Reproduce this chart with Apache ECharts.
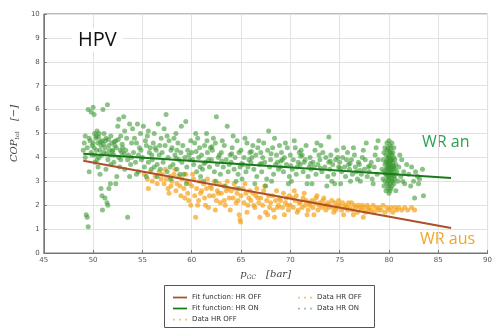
<!DOCTYPE html>
<html>
<head>
<meta charset="utf-8">
<script src="https://cdn.jsdelivr.net/npm/echarts@6/dist/echarts.min.js"></script>
<style>
  html, body { margin: 0; padding: 0; background: #fff; }
  #chart { width: 495px; height: 328px; }
</style>
</head>
<body>
<div id="chart"></div>
<script>
// axis ticks
const xTicks = [45, 50, 55, 60, 65, 70, 75, 80, 85, 90];
const yTicks = [0, 1, 2, 3, 4, 5, 6, 7, 8, 9, 10];

// fit functions (end points)
const fitHrOff = [[49.0, 3.86], [86.3, 1.05]];
const fitHrOn = [[49.0, 4.15], [86.3, 3.14]];

// measured points, heat recovery ON (green)
const dataHrOn = [
  [49.0,4.3],[49.1,4.6],[49.2,4.0],[49.3,1.6],[49.4,1.5],[49.2,4.9],[49.5,1.1],[49.4,4.4],[49.6,3.4],[49.7,4.7],[49.8,4.2],[49.5,6.0],[49.8,5.9],[49.9,4.5],
  [50.0,6.1],[50.1,5.8],[50.3,4.8],[50.2,4.1],[50.4,3.9],[50.5,4.6],[50.6,5.0],[50.1,4.4],[50.7,4.3],[50.8,2.7],[50.9,2.4],[50.5,3.6],[50.3,4.9],[50.6,4.0],[50.9,4.7],[50.2,3.8],[50.8,4.5],[50.4,5.1],[50.7,3.3],[50.95,1.8],
  [51.0,6.0],[51.1,4.2],[51.2,2.3],[51.3,4.8],[51.4,2.1],[51.5,3.9],[51.6,4.5],[51.1,5.0],[51.7,4.1],[51.8,3.7],[51.3,3.5],[51.9,4.6],[51.5,2.0],[51.6,2.7],[51.2,4.4],[51.8,4.9],[51.45,6.2],[51.75,2.9],
  [49.6,4.8],[49.9,4.1],[50.0,4.6],[50.15,5.0],[50.35,4.3],[50.55,4.85],[50.75,4.65],[50.85,4.1],[51.05,4.55],[51.25,4.7],[51.35,4.15],[51.55,4.75],[51.65,4.3],[51.95,4.25],[52.15,4.65],[52.35,4.4],[52.55,4.75],[52.75,4.3],[52.95,4.55],[53.15,4.15],
  [52.0,4.3],[52.1,3.8],[52.3,4.7],[52.4,3.2],[52.5,5.3],[52.6,4.0],[52.2,4.5],[52.7,3.6],[52.8,4.9],[52.9,4.2],[52.3,2.9],[52.6,5.6],[52.8,3.9],[52.1,4.1],
  [53.0,4.4],[53.1,5.7],[53.2,3.5],[53.4,4.8],[53.5,1.5],[53.6,4.1],[53.7,5.4],[53.8,3.7],[53.3,4.3],[53.9,4.6],[53.5,3.9],[53.2,5.1],[53.7,3.2],[53.9,4.0],
  [54.0,5.2],[54.1,4.2],[54.3,3.8],[54.4,4.6],[54.5,5.4],[54.6,3.4],[54.7,4.4],[54.8,5.0],[54.9,3.9],[54.2,4.8],[54.6,4.1],[54.4,3.3],[54.85,4.3],
  [55.0,4.0],[55.1,5.3],[55.2,3.6],[55.4,4.5],[55.5,4.9],[55.6,3.8],[55.7,4.2],[55.9,3.5],[55.3,4.7],[55.8,4.4],[55.4,3.2],[55.6,5.1],[55.95,4.1],
  [56.0,3.9],[56.1,4.6],[56.2,5.0],[56.4,4.3],[56.5,3.7],[56.6,5.4],[56.7,4.1],[56.8,3.5],[56.9,4.8],[56.3,4.4],[56.5,3.2],[56.75,4.5],[56.2,3.6],
  [57.0,4.2],[57.1,3.8],[57.2,5.2],[57.3,4.5],[57.5,3.4],[57.6,4.0],[57.7,4.7],[57.8,3.6],[57.9,4.3],[57.4,5.8],[57.5,4.9],[57.85,3.1],
  [58.0,4.4],[58.1,3.7],[58.3,4.1],[58.4,5.0],[58.5,3.5],[58.6,4.6],[58.7,3.9],[58.9,4.2],[58.2,4.8],[58.8,3.3],[58.5,4.3],[58.95,5.3],
  [59.0,3.8],[59.1,4.5],[59.3,4.0],[59.4,5.5],[59.5,3.6],[59.6,4.3],[59.8,3.9],[59.9,4.7],[59.2,3.3],[59.7,4.1],[59.45,2.9],
  [60.0,4.2],[60.2,3.7],[60.3,4.6],[60.4,5.0],[60.5,3.4],[60.7,4.0],[60.8,4.4],[60.9,3.2],[60.1,3.9],[60.6,4.8],[60.85,3.6],
  [61.0,4.1],[61.1,3.5],[61.3,4.5],[61.4,3.8],[61.5,5.0],[61.6,4.2],[61.8,3.6],[61.9,4.4],[61.2,3.0],[61.7,3.9],[61.55,4.7],
  [62.0,3.9],[62.1,4.3],[62.3,3.4],[62.4,4.6],[62.5,5.7],[62.6,3.7],[62.8,4.1],[62.9,3.3],[62.2,4.8],[62.7,4.0],[62.45,3.0],
  [63.0,4.2],[63.2,3.6],[63.3,4.5],[63.5,3.9],[63.6,5.3],[63.7,3.4],[63.9,4.1],[63.1,4.7],[63.8,3.7],[63.4,2.8],
  [64.0,3.8],[64.1,4.4],[64.3,3.5],[64.4,4.0],[64.6,4.7],[64.7,3.3],[64.8,4.2],[64.9,3.6],[64.2,4.9],[64.5,3.0],[64.75,2.7],
  [65.0,4.3],[65.2,3.7],[65.3,4.0],[65.5,3.4],[65.6,4.6],[65.8,3.9],[65.9,4.2],[65.1,3.1],[65.4,4.8],[65.7,3.6],
  [66.0,3.8],[66.2,4.5],[66.3,3.5],[66.5,4.1],[66.6,3.2],[66.7,4.4],[66.9,3.7],[66.1,4.0],[66.8,4.7],[66.4,2.9],
  [67.0,4.2],[67.1,3.4],[67.3,4.6],[67.4,3.8],[67.6,3.1],[67.7,4.3],[67.9,3.6],[67.2,4.0],[67.8,5.1],[67.5,2.8],
  [68.0,3.9],[68.2,4.4],[68.3,3.3],[68.5,3.7],[68.6,4.1],[68.8,3.5],[68.9,4.5],[68.1,3.0],[68.7,3.8],[68.4,4.8],
  [69.0,3.6],[69.1,4.2],[69.3,3.4],[69.4,4.0],[69.6,3.7],[69.7,4.4],[69.9,3.2],[69.2,3.9],[69.8,2.9],[69.5,4.6],
  [70.0,4.1],[70.2,3.5],[70.3,3.9],[70.5,4.4],[70.6,3.3],[70.8,3.8],[70.9,4.2],[70.1,3.0],[70.7,3.6],[70.4,4.7],
  [71.0,3.7],[71.2,4.1],[71.3,3.4],[71.5,3.9],[71.6,4.5],[71.8,3.2],[71.9,3.6],[71.1,4.3],[71.7,2.9],[71.4,3.8],
  [72.0,4.0],[72.1,3.5],[72.3,3.8],[72.5,4.3],[72.6,3.3],[72.8,3.7],[72.9,4.1],[72.2,2.9],[72.7,4.6],[72.4,3.6],
  [73.0,3.9],[73.2,3.4],[73.3,4.2],[73.5,3.6],[73.6,4.0],[73.8,3.2],[73.9,3.8],[73.1,4.5],[73.7,2.8],[73.9,4.85],
  [74.0,3.5],[74.1,4.1],[74.3,3.7],[74.4,3.3],[74.6,3.9],[74.7,4.3],[74.9,3.6],[74.2,3.0],[74.8,4.0],[74.5,2.9],
  [75.0,3.8],[75.2,3.4],[75.3,4.0],[75.5,3.6],[75.6,3.2],[75.8,4.2],[75.9,3.7],[75.1,2.9],[75.7,3.9],[75.4,4.4],
  [76.0,3.5],[76.2,3.9],[76.3,3.3],[76.5,4.1],[76.6,3.6],[76.8,3.1],[76.9,3.8],[76.4,4.4],[76.7,3.4],[76.1,3.0],
  [77.0,3.7],[77.2,3.3],[77.3,4.0],[77.5,3.5],[77.6,3.9],[77.8,3.2],[77.9,3.6],[77.4,4.3],[77.1,3.0],[77.7,4.6],
  [78.0,3.4],[78.2,3.8],[78.3,3.1],[78.5,3.6],[78.6,4.1],[78.8,3.3],[78.9,3.9],[78.4,2.9],[78.7,4.4],[78.9,4.7],
  [60.45,4.25],[61.25,3.75],[62.05,4.45],[63.05,3.85],[64.05,4.15],[65.05,3.75],[66.05,4.25],[67.05,3.75],[68.05,4.15],[69.05,3.85],
  [70.05,3.65],[71.05,4.05],[72.05,3.75],[73.05,3.55],[74.05,3.85],[75.05,3.55],[76.05,3.75],[77.05,3.45],[78.05,3.65],[58.45,3.95],
  [79.3,3.5],[79.4,3.1],[79.4,3.9],[79.5,2.8],[79.5,3.4],[79.5,4.2],[79.6,3.0],[79.6,3.7],[79.6,4.4],[79.7,2.6],
  [79.7,3.3],[79.7,3.8],[79.7,4.1],[79.8,2.9],[79.8,3.2],[79.8,3.5],[79.8,3.9],[79.8,4.3],[79.8,4.6],[79.9,2.7],
  [79.9,3.0],[79.9,3.3],[79.9,3.6],[79.9,3.8],[79.9,4.0],[79.9,4.4],[80.0,2.5],[80.0,2.8],[80.0,3.1],[80.0,3.3],
  [80.0,3.5],[80.0,3.7],[80.0,3.9],[80.0,4.1],[80.0,4.3],[80.0,4.7],[80.1,2.6],[80.1,2.9],[80.1,3.2],[80.1,3.4],
  [80.1,3.6],[80.1,3.8],[80.1,4.0],[80.1,4.2],[80.1,4.5],[80.2,2.7],[80.2,3.0],[80.2,3.3],[80.2,3.5],[80.2,3.7],
  [80.2,3.9],[80.2,4.2],[80.2,4.4],[80.3,2.8],[80.3,3.1],[80.3,3.4],[80.3,3.6],[80.3,3.9],[80.3,4.1],[80.3,4.6],
  [80.4,3.0],[80.4,3.3],[80.4,3.5],[80.4,3.8],[80.4,4.2],[80.5,2.9],[80.5,3.2],[80.5,3.6],[80.5,4.0],[80.5,4.4],
  [80.6,3.1],[80.6,3.5],[80.6,3.9],[80.7,3.3],[80.7,3.7],[80.7,2.6],[80.8,3.4],[80.9,3.0],[79.95,3.45],[80.05,3.65],
  [79.85,3.75],[80.15,3.35],[80.25,3.55],[79.75,3.55],[80.35,3.25],[80.05,3.95],[79.95,3.15],[80.15,3.85],[80.45,3.65],[79.65,3.35],
  [81.0,3.6],[81.2,3.2],[81.3,3.9],[81.5,3.4],[81.6,2.9],[81.8,3.7],[81.1,4.1],[81.4,3.0],
  [82.0,3.3],[82.3,3.6],[82.5,3.0],[82.7,3.4],[82.2,2.8],[82.9,3.2],[82.6,2.3],
  [83.1,3.1],[83.4,3.5],[83.0,2.9],[83.5,2.4]
];

// measured points, heat recovery OFF (orange)
const dataHrOff = [
  [55.2,3.3],[55.5,3.1],[55.8,3.4],[56.0,3.0],[56.3,3.2],[56.5,2.9],[56.7,3.4],[56.9,3.1],[55.6,2.7],
  [57.0,3.3],[57.2,2.9],[57.4,3.1],[57.6,2.7],[57.8,3.2],[57.9,2.8],[57.3,3.5],[57.7,2.5],
  [58.0,3.0],[58.2,3.3],[58.4,2.6],[58.5,2.9],[58.7,3.2],[58.9,2.4],[58.3,3.5],[58.8,2.8],
  [59.0,3.1],[59.2,2.7],[59.3,2.3],[59.5,3.0],[59.6,2.5],[59.8,2.9],[59.9,2.0],[59.4,3.3],[59.7,2.2],
  [60.0,2.8],[60.2,3.1],[60.3,2.4],[60.5,2.7],[60.6,2.0],[60.8,3.0],[60.9,2.5],[60.4,1.5],[60.7,2.2],[60.1,3.3],
  [61.0,2.6],[61.2,2.9],[61.3,2.3],[61.5,2.7],[61.6,3.1],[61.8,2.4],[61.9,2.8],[61.4,2.0],[61.7,1.9],
  [62.0,2.7],[62.2,2.4],[62.3,3.0],[62.5,2.2],[62.6,2.6],[62.8,2.9],[62.9,2.1],[62.4,1.8],[62.7,2.5],
  [63.0,2.5],[63.2,2.8],[63.3,2.2],[63.5,2.6],[63.6,3.0],[63.8,2.3],[63.9,1.8],[63.4,2.0],[63.7,2.7],
  [64.0,2.6],[64.2,2.3],[64.3,2.9],[64.5,2.1],[64.6,2.5],[64.8,1.6],[64.9,1.4],[64.4,2.7],[64.7,2.2],[64.95,1.3],
  [65.0,2.4],[65.2,2.7],[65.3,2.1],[65.5,2.5],[65.6,1.7],[65.8,2.3],[65.9,2.6],[65.4,2.9],[65.7,2.0],
  [66.0,2.2],[66.2,2.5],[66.3,2.0],[66.5,2.4],[66.6,2.7],[66.8,2.1],[66.9,1.5],[66.4,1.9],[66.7,2.3],
  [67.0,2.3],[67.2,2.0],[67.3,2.6],[67.5,1.7],[67.6,2.2],[67.8,2.4],[67.9,1.9],[67.4,2.8],[67.7,1.6],
  [68.0,2.1],[68.2,2.4],[68.3,1.8],[68.5,2.2],[68.6,2.6],[68.8,2.0],[68.9,2.3],[68.4,1.5],[68.7,1.9],
  [69.0,2.2],[69.2,1.9],[69.3,2.5],[69.5,2.1],[69.6,2.3],[69.8,1.8],[69.9,2.4],[69.4,1.6],[69.7,2.0],
  [70.0,2.0],[70.2,2.3],[70.3,1.9],[70.5,2.2],[70.6,2.4],[70.8,1.8],[70.9,2.1],[70.4,2.6],[70.7,1.7],
  [71.0,2.1],[71.2,1.9],[71.3,2.3],[71.5,2.0],[71.6,2.2],[71.8,1.8],[71.9,2.1],[71.4,2.5],[71.7,1.6],
  [72.0,2.0],[72.2,2.2],[72.3,1.9],[72.5,2.1],[72.6,2.3],[72.8,1.8],[72.9,2.0],[72.4,1.6],[72.7,2.4],
  [73.0,2.1],[73.2,1.9],[73.3,2.2],[73.5,2.0],[73.6,1.8],[73.8,2.1],[73.9,1.9],[73.4,2.3],[73.7,2.0],
  [74.0,2.0],[74.2,2.2],[74.3,1.9],[74.5,2.1],[74.6,1.8],[74.8,2.0],[74.9,2.2],[74.4,1.7],[74.7,1.9],
  [75.0,2.0],[75.2,1.8],[75.3,2.1],[75.5,1.9],[75.6,2.0],[75.8,1.8],[75.9,2.1],[75.4,1.6],[75.7,1.9],
  [76.0,1.9],[76.2,2.1],[76.3,1.8],[76.5,2.0],[76.6,1.9],[76.8,1.7],[76.9,2.0],[76.4,1.6],
  [77.0,1.9],[77.2,1.8],[77.3,2.0],[77.5,1.9],[77.6,1.7],[77.8,2.0],[77.9,1.8],[77.4,1.5],
  [78.0,1.9],[78.2,1.8],[78.4,2.0],[78.5,1.7],[78.7,1.9],[78.9,1.8],
  [79.0,1.9],[79.2,1.8],[79.4,2.0],[79.6,1.7],[79.8,1.9],
  [80.0,1.8],[80.2,1.9],[80.4,1.7],[80.6,1.9],[80.8,1.8],
  [81.0,1.9],[81.3,1.8],[81.6,1.9],[81.9,1.8],[82.3,1.9],[82.6,1.8]
];

const names = {
  fitOff: 'Fit function: HR OFF',
  fitOn: 'Fit function: HR ON',
  dataOff: 'Data HR OFF',
  dataOn: 'Data HR ON'
};

const lineIcon = 'path://M0,0H16V2H0Z';
const dotsIcon = 'path://M0,0h2v2h-2z M7,0h2v2h-2z M14,0h2v2h-2z';

const chart = echarts.init(document.getElementById('chart'));

const axisLabelStyle = { fontSize: 7, color: '#555', fontFamily: 'DejaVu Sans' };
const nameRich = {
  i: { fontFamily: 'DejaVu Serif', fontStyle: 'italic', fontSize: 10, color: '#444' },
  s: { fontFamily: 'DejaVu Serif', fontStyle: 'italic', fontSize: 6, color: '#444', verticalAlign: 'bottom', padding: [4, 0, 0, 0] }
};

const option = {
  animation: false,
  backgroundColor: '#fff',
  grid: {
    left: 42, right: 1, top: 14, bottom: 75,
    show: true, borderColor: '#777', borderWidth: 1
  },
  xAxis: {
    type: 'value', min: 45, max: 90, interval: 5,
    name: '{i|p}{s|GC}   {i|[bar]}',
    nameLocation: 'middle', nameGap: 11,
    nameTextStyle: { rich: nameRich },
    axisLine: { show: true, lineStyle: { color: '#777' } },
    axisTick: { show: true, inside: true, length: 3, lineStyle: { color: '#777' } },
    axisLabel: Object.assign({ margin: 4, customValues: xTicks }, axisLabelStyle),
    splitLine: { show: true, lineStyle: { color: '#e2e2e2', width: 1 } }
  },
  yAxis: {
    type: 'value', min: 0, max: 10, interval: 1,
    name: '{i|COP}{s|tot}   {i|[\u2212]}',
    nameLocation: 'middle', nameGap: 13, nameRotate: 90,
    nameTextStyle: { rich: nameRich },
    axisLine: { show: true, lineStyle: { color: '#777' } },
    axisTick: { show: true, inside: true, length: 3, lineStyle: { color: '#777' } },
    axisLabel: Object.assign({ margin: 4, customValues: yTicks }, axisLabelStyle),
    splitLine: { show: true, lineStyle: { color: '#e2e2e2', width: 1 } }
  },
  legend: [
    {
      orient: 'vertical', left: 168, top: 289, itemGap: 4,
      itemWidth: 14, itemHeight: 8,
      textStyle: { fontSize: 7, color: '#333', fontFamily: 'DejaVu Sans' },
      data: [
        { name: names.fitOff, icon: lineIcon },
        { name: names.fitOn, icon: lineIcon },
        { name: names.dataOff, icon: dotsIcon }
      ]
    },
    {
      orient: 'vertical', left: 293, top: 289, itemGap: 4,
      itemWidth: 14, itemHeight: 8,
      textStyle: { fontSize: 7, color: '#333', fontFamily: 'DejaVu Sans' },
      data: [
        { name: names.dataOff, icon: dotsIcon },
        { name: names.dataOn, icon: dotsIcon }
      ]
    }
  ],
  graphic: [
    { type: 'rect', left: 164, top: 285, shape: { width: 210, height: 42 },
      style: { fill: '#fff', stroke: '#555', lineWidth: 1 }, z: 0 },
    { type: 'text', left: 72, top: 28, z: 10,
      style: { text: 'HPV', fontSize: 20, fill: '#111', fontFamily: 'Open Sans',
               backgroundColor: '#fff', padding: [2, 6, 2, 6] } },
    { type: 'text', left: 422, top: 134,
      style: { text: 'WR an', fontSize: 16, fill: '#2ba24c', fontFamily: 'Open Sans' } },
    { type: 'text', left: 420, top: 231,
      style: { text: 'WR aus', fontSize: 16, fill: '#f2a625', fontFamily: 'Open Sans' } }
  ],
  series: [
    {
      name: names.dataOff, type: 'scatter', data: dataHrOff,
      symbolSize: 5, itemStyle: { color: '#f5a21a', opacity: 0.7 }, z: 2
    },
    {
      name: names.dataOn, type: 'scatter', data: dataHrOn,
      symbolSize: 5, itemStyle: { color: '#3d9a34', opacity: 0.6 }, z: 3
    },
    {
      name: names.fitOff, type: 'line', data: fitHrOff, showSymbol: false,
      lineStyle: { color: '#ad4f27', width: 2 }, itemStyle: { color: '#ad4f27' }, z: 4
    },
    {
      name: names.fitOn, type: 'line', data: fitHrOn, showSymbol: false,
      lineStyle: { color: '#1a7a1a', width: 2 }, itemStyle: { color: '#1a7a1a' }, z: 4
    }
  ]
};

chart.setOption(option);
</script>
</body>
</html>
